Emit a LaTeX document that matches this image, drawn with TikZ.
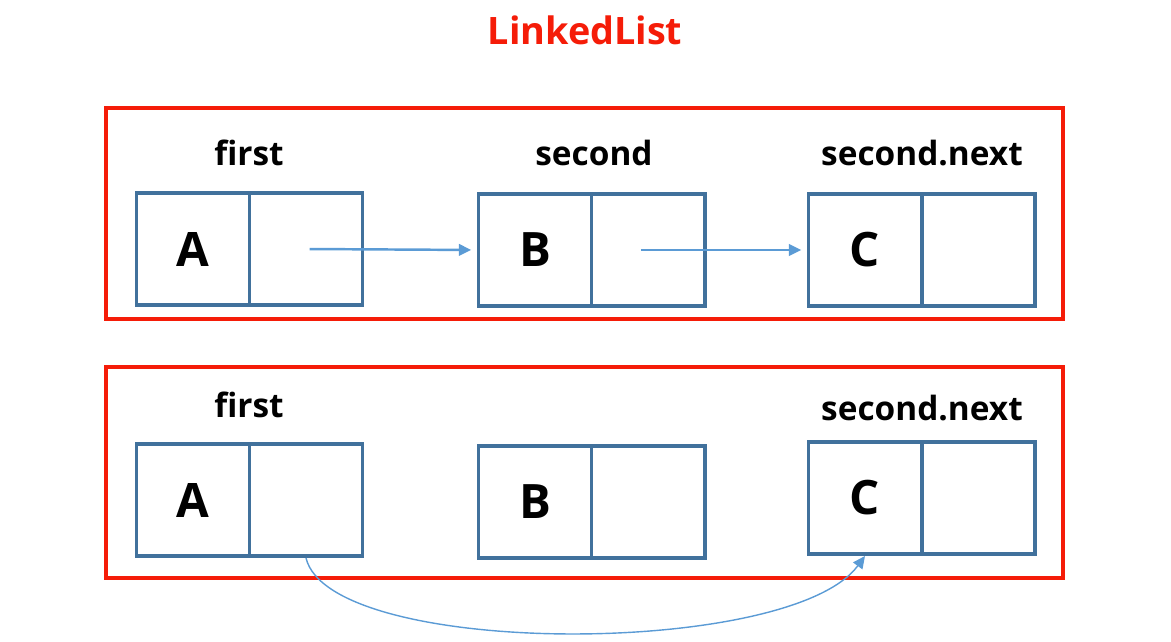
\documentclass[tikz,border=0pt]{standalone}
\usepackage{fontspec}
\setmainfont{Open Sans}
\usetikzlibrary{arrows.meta}
\definecolor{framered}{RGB}{245,28,8}
\definecolor{cellblue}{RGB}{65,113,156}
\definecolor{ptrblue}{RGB}{91,155,213}
\begin{document}
\begin{tikzpicture}[x=0.02cm,y=-0.02cm,
  cell/.style={draw=cellblue,line width=2pt,minimum width=2.27cm,minimum height=2.25cm,inner sep=0pt,font=\fontsize{27}{27}\bfseries\selectfont},
  lbl/.style={font=\fontsize{19}{19}\bfseries\selectfont},
  frame/.style={draw=framered,line width=2.8pt},
  ptr/.style={draw=ptrblue,line width=1.4pt,-{Triangle[length=7pt,width=6.5pt]}}]
\useasboundingbox (0,0) rectangle (1171,642);
\node[font=\fontsize{21.5}{21.5}\bfseries\selectfont,text=framered] (title) at (585,30) {LinkedList};
\draw[frame] (106,108) rectangle (1063,319);
\draw[frame] (106,367) rectangle (1063,578);
\node[lbl] (tfirst) at (249,153) {first};
\node[lbl] (tsecond) at (594,153) {second};
\node[lbl] (tnext) at (922,153) {second.next};
\node[cell] (tA) at (193,249) {A};
\node[cell] (tAn) at (306,249) {};
\node[cell] (tB) at (535,250) {B};
\node[cell] (tBn) at (648,250) {};
\node[cell] (tC) at (865,250) {C};
\node[cell] (tCn) at (978,250) {};
\draw[ptr,shorten <=2pt,shorten >=3pt] (tAn.center) -- (tB.west);
\draw[ptr,shorten <=-4pt,shorten >=3pt] (tBn.center) -- (tC.west);
\node[lbl] (bfirst) at (249,405) {first};
\node[lbl] (bnext) at (922,408) {second.next};
\node[cell] (bA) at (193,500) {A};
\node[cell] (bAn) at (306,500) {};
\node[cell] (bB) at (535,502) {B};
\node[cell] (bBn) at (648,502) {};
\node[cell] (bC) at (865,498) {C};
\node[cell] (bCn) at (978,498) {};
\draw[ptr,line width=0.8pt] (bAn.south) .. controls (330,658) and (790,658) .. (bC.south);
\end{tikzpicture}
\end{document}
